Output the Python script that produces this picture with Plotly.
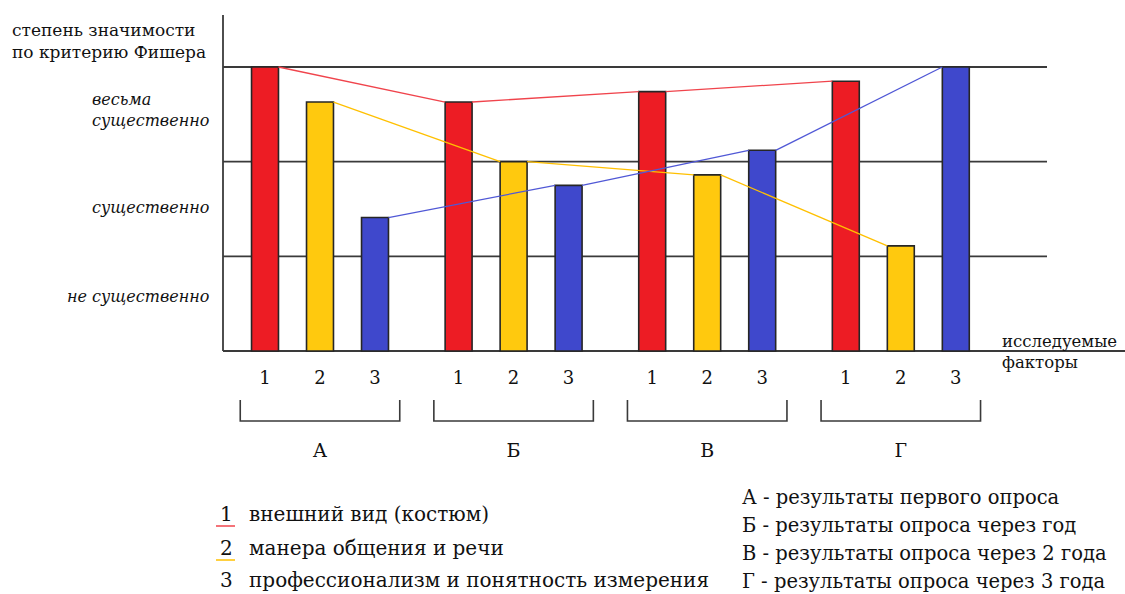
import plotly.graph_objects as go

# ---------------- data ----------------
groups = ["А", "Б", "В", "Г"]
factor_labels = ["1", "2", "3"]
factor_names = ["внешний вид (костюм)", "манера общения и речи",
                "профессионализм и понятность измерения"]
group_names = ["А - результаты первого опроса",
               "Б - результаты опроса через год",
               "В - результаты опроса через 2 года",
               "Г - результаты опроса через 3 года"]
level_labels = ["не существенно", "существенно", "весьма<br>существенно"]
y_title = "степень значимости<br>по критерию Фишера"
x_title = "исследуемые<br>факторы"

values_f1 = [3.0, 2.63, 2.74, 2.85]   # внешний вид
values_f2 = [2.63, 2.0, 1.86, 1.11]   # манера общения
values_f3 = [1.41, 1.75, 2.12, 3.0]   # профессионализм

# ---------------- layout constants ----------------
W, H = 1125, 594
X_UNIT, X_ORIGIN = 55.0, 265.0
Y_UNIT, Y_BASE = 94.67, 351.0
GROUP_STEP = 3.52
BAR_W = 0.49
SERIF = "DejaVu Serif"
INK = "#111111"
GRID = "#3a3a3a"

def xdata(px):
    return (px - X_ORIGIN) / X_UNIT

def ydata(py):
    return (Y_BASE - py) / Y_UNIT

def xp(px):
    return px / W

def yp(py):
    return 1 - py / H

bar_colors = ["#ED1C24", "#FFC90E", "#3F48CC"]
line_colors = ["#F0444C", "#FFC000", "#5058D6"]
series = [values_f1, values_f2, values_f3]
group_x = [g * GROUP_STEP for g in range(len(groups))]

fig = go.Figure()

# bars
for f, (vals, col) in enumerate(zip(series, bar_colors)):
    xs = [gx + f for gx in group_x]
    fig.add_trace(go.Bar(
        x=xs, y=vals, width=BAR_W,
        marker=dict(color=col, line=dict(color="#262626", width=1.6)),
        showlegend=False, hoverinfo="skip"))

# connecting lines (edge of bar to edge of next bar)
for f, (vals, col) in enumerate(zip(series, line_colors)):
    lx, ly = [], []
    for g in range(len(groups) - 1):
        lx += [group_x[g] + f + BAR_W / 2, group_x[g + 1] + f - BAR_W / 2, None]
        ly += [vals[g], vals[g + 1], None]
    fig.add_trace(go.Scatter(x=lx, y=ly, mode="lines",
                             line=dict(color=col, width=1.3),
                             showlegend=False, hoverinfo="skip"))

# factor tick labels under bars
tx, tt = [], []
for gx in group_x:
    for f, lab in enumerate(factor_labels):
        tx.append(gx + f)
        tt.append(lab)
fig.add_trace(go.Scatter(x=tx, y=[ydata(379)] * len(tx), mode="text", text=tt,
                         textfont=dict(family=SERIF, size=18, color=INK),
                         showlegend=False, hoverinfo="skip"))

# group brackets
bx, by = [], []
HALF = 1.45
for gx in group_x:
    c = gx + 1
    bx += [c - HALF, c - HALF, c + HALF, c + HALF, None]
    by += [ydata(400), ydata(421), ydata(421), ydata(400), None]
fig.add_trace(go.Scatter(x=bx, y=by, mode="lines",
                         line=dict(color=GRID, width=1.6),
                         showlegend=False, hoverinfo="skip"))

# group letters
fig.add_trace(go.Scatter(x=[gx + 1 for gx in group_x], y=[ydata(452)] * len(groups),
                         mode="text", text=groups,
                         textfont=dict(family=SERIF, size=19, color=INK),
                         showlegend=False, hoverinfo="skip"))

# grid lines, baseline, y axis
shapes = []
for lvl in [1, 2, 3]:
    shapes.append(dict(type="line", xref="x", yref="y", x0=xdata(223), x1=xdata(1047),
                       y0=lvl, y1=lvl, line=dict(color=GRID, width=1.8), layer="below"))
shapes.append(dict(type="line", xref="x", yref="y", x0=xdata(223), x1=xdata(W),
                   y0=0, y1=0, line=dict(color=GRID, width=1.8), layer="below"))
shapes.append(dict(type="line", xref="x", yref="y", x0=xdata(223), x1=xdata(223),
                   y0=0, y1=ydata(15), line=dict(color=GRID, width=1.8), layer="below"))
# legend underlines
shapes.append(dict(type="line", xref="paper", yref="paper", x0=xp(216), x1=xp(235),
                   y0=yp(526), y1=yp(526), line=dict(color=line_colors[0], width=1.5)))
shapes.append(dict(type="line", xref="paper", yref="paper", x0=xp(216), x1=xp(235),
                   y0=yp(560), y1=yp(560), line=dict(color=line_colors[1], width=1.5)))

annotations = []
def ann(text, x, y, xanchor="left", size=17, italic=False, align="left"):
    annotations.append(dict(
        text=text, x=xp(x), y=yp(y), xref="paper", yref="paper",
        xanchor=xanchor, yanchor="middle", showarrow=False, align=align,
        font=dict(family=SERIF, size=size, color=INK,
                  style="italic" if italic else "normal")))

ann(y_title, 10, 41, size=17)
ann(level_labels[2], 211, 110, xanchor="right", size=16, italic=True)
ann(level_labels[1], 211, 207, xanchor="right", size=16, italic=True)
ann(level_labels[0], 211, 296, xanchor="right", size=16, italic=True)
ann(x_title, 1000, 352, size=16.5)

legend_y = [514, 548, 580]
for lab, name, y in zip(factor_labels, factor_names, legend_y):
    ann(lab, 226, y, xanchor="center", size=20)
    ann(name, 247, y, size=20)

right_y = [497, 525, 553, 581]
for name, y in zip(group_names, right_y):
    ann(name, 740, y, size=19.5)

fig.update_layout(
    width=W, height=H, autosize=False,
    margin=dict(l=0, r=0, t=0, b=0),
    paper_bgcolor="white", plot_bgcolor="white",
    barmode="overlay",
    xaxis=dict(range=[xdata(0), xdata(W)], visible=False, fixedrange=True),
    yaxis=dict(range=[ydata(H), ydata(0)], visible=False, fixedrange=True),
    shapes=shapes, annotations=annotations,
)

fig.write_html("out.html", config={"displayModeBar": False},
               post_script="document.body.style.margin='0px';document.body.style.overflow='hidden';")
